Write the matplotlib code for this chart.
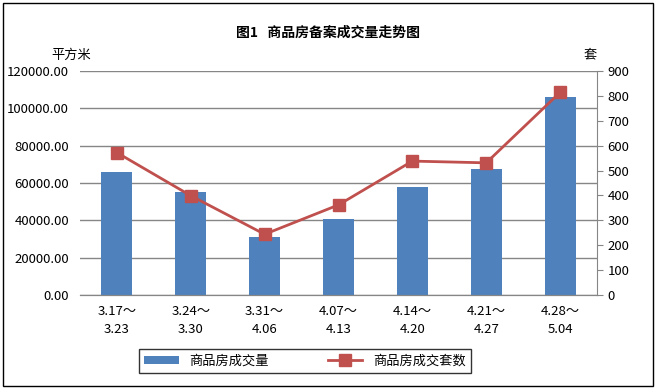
import matplotlib.pyplot as plt
from matplotlib.patches import Rectangle

plt.rcParams['font.family'] = ['Noto Sans CJK SC', 'DejaVu Sans']

weeks = ["3.17～\n3.23", "3.24～\n3.30", "3.31～\n4.06", "4.07～\n4.13",
         "4.14～\n4.20", "4.21～\n4.27", "4.28～\n5.04"]
area = [65900, 55200, 31100, 40700, 57900, 67500, 106100]
units = [572, 399, 244, 362, 538, 531, 814]

blue = "#4F81BD"
red = "#C0504D"
grid = "#868686"

fig = plt.figure(figsize=(6.56, 3.89), dpi=100)
ax = fig.add_axes([80/656, 1 - 295/389, 517/656, 224/389])
ax2 = ax.twinx()

x = range(len(weeks))
b = ax.bar(x, area, width=0.42, color=blue, zorder=2)
l, = ax2.plot(x, units, color=red, lw=2, marker="s", ms=8, zorder=3)

ax.set_xlim(-0.5, len(weeks) - 0.5)
ax.set_ylim(0, 120000)
ax.set_yticks(range(0, 120001, 20000))
ax.set_yticklabels([f"{v:.2f}" for v in range(0, 120001, 20000)], fontsize=9.5)
ax.yaxis.grid(True, color=grid, lw=1, zorder=0)
ax.set_axisbelow(True)
ax.tick_params(axis="y", length=0, pad=8)
ax.set_xticks(list(x))
ax.set_xticklabels(weeks, fontsize=9.5, linespacing=1.5)
ax.tick_params(axis="x", length=0, pad=7)

ax2.set_ylim(0, 900)
ax2.set_yticks(range(0, 901, 100))
ax2.tick_params(axis="y", labelsize=9.5, length=4, color=grid, direction="out")

for a in (ax, ax2):
    a.spines["top"].set_visible(False)
    a.spines["left"].set_visible(False)
    a.spines["right"].set_visible(False)
    a.spines["bottom"].set_color(grid)
ax2.spines["right"].set_visible(True)
ax2.spines["right"].set_color(grid)

fig.text(71/656, 1 - 55/389, "平方米", fontsize=9.5, ha="center", va="center")
fig.text(590/656, 1 - 55/389, "套", fontsize=9.5, ha="center", va="center")
fig.text(328/656, 1 - 33/389, "图1   商品房备案成交量走势图", fontsize=10,
         fontweight="bold", ha="center", va="center")

leg = fig.legend([b, l], ["商品房成交量", "商品房成交套数"], loc="center",
                 bbox_to_anchor=(305/656, 1 - 361/389), ncol=2, fontsize=9.5,
                 frameon=True, fancybox=False, edgecolor="black",
                 handlelength=2.6, handleheight=0.5, columnspacing=4.5,
                 borderpad=0.4, borderaxespad=0)
leg.get_frame().set_linewidth(1)

fig.patches.append(Rectangle((3/656, 3/389), 650/656, 383/389, fill=False,
                             ec="black", lw=1, transform=fig.transFigure))

fig.savefig("out.png", dpi=100)
